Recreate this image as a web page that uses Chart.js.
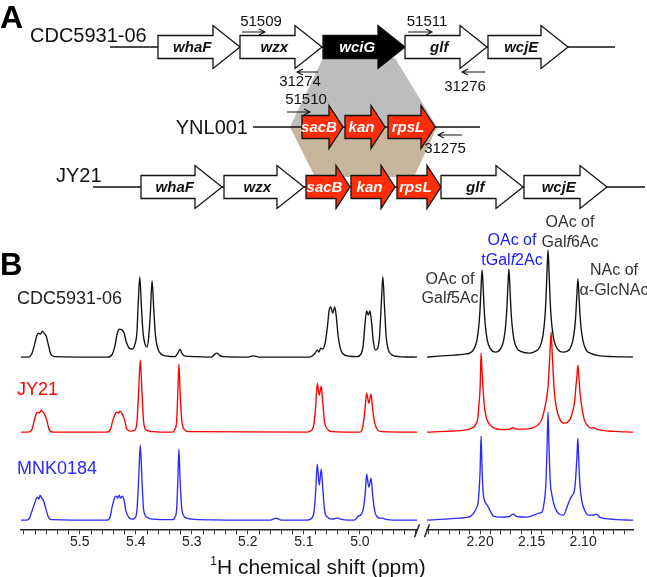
<!DOCTYPE html>
<html>
<head>
<meta charset="utf-8">
<script src="https://cdn.jsdelivr.net/npm/chart.js@4.4.1/dist/chart.umd.min.js"></script>
<style>
  html, body { margin: 0; padding: 0; background: #fff; }
  #fig { position: relative; width: 647px; height: 577px; overflow: hidden; font-family: 'Liberation Sans', Arial, sans-serif; }
  canvas { position: absolute; }
  .t { position: absolute; white-space: nowrap; line-height: 1; }
  .c { transform: translate(-50%, -50%); }
  .l { transform: translateY(-50%); }
  .r { transform: translate(-100%, -50%); }
  .t sup { font-size: 12px; position: relative; top: -9px; vertical-align: baseline; }
</style>
</head>
<body>
<div id="fig">
  <canvas id="genes" width="647" height="235" style="left:0;top:0"></canvas>
  <canvas id="specL" width="422" height="342" style="left:0;top:235px"></canvas>
  <canvas id="specR" width="225" height="342" style="left:422px;top:235px"></canvas>

  <div class="t l" style="left:0;top:17px;font-size:32px;font-weight:bold;color:#000">A</div>
  <div class="t l" style="left:30px;top:35px;font-size:20px;color:#111">CDC5931-06</div>
  <div class="t r" style="left:248px;top:127px;font-size:20px;color:#111">YNL001</div>
  <div class="t l" style="left:56px;top:175px;font-size:20px;color:#111">JY21</div>

  <div class="t l" style="left:0;top:264px;font-size:31px;font-weight:bold;color:#000">B</div>
  <div class="t l" style="left:17px;top:298px;font-size:18px;color:#222">CDC5931-06</div>
  <div class="t l" style="left:17px;top:389px;font-size:18px;color:#ff0000">JY21</div>
  <div class="t l" style="left:17px;top:468px;font-size:18px;color:#2a2aff">MNK0184</div>

  <div class="t c" style="left:450px;top:279px;font-size:16px;color:#333">OAc of</div>
  <div class="t c" style="left:450px;top:298px;font-size:16px;color:#333">Gal<i>f</i>5Ac</div>
  <div class="t c" style="left:512px;top:240px;font-size:16px;color:#1a1aff">OAc of</div>
  <div class="t c" style="left:512px;top:260px;font-size:16px;color:#1a1aff">tGal<i>f</i>2Ac</div>
  <div class="t c" style="left:570px;top:222px;font-size:16px;color:#333">OAc of</div>
  <div class="t c" style="left:570px;top:242px;font-size:16px;color:#333">Gal<i>f</i>6Ac</div>
  <div class="t c" style="left:614px;top:270px;font-size:16px;color:#333">NAc of</div>
  <div class="t c" style="left:614px;top:290px;font-size:16px;color:#333">α-GlcNAc</div>

  <div class="t c" style="left:318px;top:566px;font-size:21px;color:#111"><sup>1</sup>H chemical shift (ppm)</div>
</div>

<script>
// ---- Panel A: gene map (map units along x, track values along y) ----
const ROW_TRACK = [47, 127, 187];
const ROW_LINE_FROM = [110, 253, 93];
const ROW_LINE_TO = [615, 480, 645];

const GENE_NAMES = ['whaF', 'wzx', 'wciG', 'glf', 'wcjE', 'sacB', 'kan', 'rpsL', 'whaF', 'wzx', 'sacB', 'kan', 'rpsL', 'glf', 'wcjE'];
const GENE_ROW = [0, 0, 0, 0, 0, 1, 1, 1, 2, 2, 2, 2, 2, 2, 2];
const GENE_START = [158, 240, 323, 405, 488, 302, 345, 388, 141, 224, 306, 351, 397, 441, 524];
const GENE_END = [240, 322, 405, 487, 568, 343, 385, 435, 222, 304, 350, 395, 441, 523, 607];
const GENE_KIND = ['white', 'white', 'black', 'white', 'white', 'red', 'red', 'red', 'white', 'white', 'red', 'red', 'red', 'white', 'white'];

const PRIMER_NAMES = ['51509', '31274', '51511', '31276', '51510', '31275'];
const PRIMER_FROM = [242, 318, 408, 485, 287, 462];
const PRIMER_TO = [265, 297, 432, 462, 310, 438];
const PRIMER_TRACK = [32, 72, 32, 72, 112, 135];
const PRIMER_LABEL_X = [261, 300, 427, 465, 306, 445];
const PRIMER_LABEL_TRACK = [22, 82, 22, 87, 100, 149];

// homology links: wciG -> YNL001 cassette (grey), cassette -> JY21 (tan)
const LINK_TOP = [323, 395];
const LINK_MID = [290, 437];
const LINK_BOT = [315, 414];
const LINK_TRACK = [58, 127, 177];

// ---- Panel B: 1H NMR spectra, [ppm, intensity] ----
const LEFT_RANGE = [4.898, 5.605];
const RIGHT_RANGE = [2.0515, 2.2515];
const LEFT_TICKS = [5.5, 5.4, 5.3, 5.2, 5.1, 5.0];
const RIGHT_TICKS = [2.20, 2.15, 2.10];
const STRAINS = ['CDC5931-06', 'JY21', 'MNK0184'];
const STACK_OFFSETS = [173, 98, 10];

const CDC_LEFT = [
  [5.605, 0], [5.592, 0], [5.586, 3], [5.581, 12], [5.577, 21], [5.574, 24], [5.570, 23], [5.567, 26], [5.564, 24], [5.560, 21], [5.556, 12], [5.552, 3], [5.546, 0.5],
  [5.450, 0], [5.442, 3], [5.437, 12], [5.433, 24], [5.429, 28], [5.425, 27], [5.421, 24], [5.417, 15], [5.412, 9], [5.407, 8],
  [5.402, 12], [5.398, 25], [5.396, 50], [5.393, 80], [5.390, 50], [5.387, 24], [5.383, 12], [5.380, 10], [5.377, 20], [5.374, 45], [5.371, 76], [5.368, 48], [5.365, 22], [5.361, 9], [5.355, 3], [5.345, 1],
  [5.330, 0.5], [5.325, 4], [5.321, 8], [5.318, 4], [5.312, 1], [5.295, 0.5],
  [5.265, 0], [5.259, 3], [5.255, 4], [5.251, 2], [5.244, 0.5],
  [5.200, 0], [5.190, 1.2], [5.180, 0],
  [5.090, 0], [5.081, 3], [5.076, 7], [5.073, 5], [5.070, 9], [5.067, 8], [5.062, 14], [5.058, 30], [5.055, 46], [5.052, 50], [5.0485, 44], [5.045, 50], [5.042, 40], [5.039, 22], [5.035, 9], [5.030, 3], [5.020, 1],
  [5.005, 0.5], [4.998, 3], [4.994, 12], [4.991, 32], [4.988, 46], [4.985, 42], [4.982, 46], [4.979, 34], [4.976, 16], [4.972, 7], [4.968, 9], [4.965, 20], [4.962, 50], [4.959, 80], [4.956, 50], [4.953, 20], [4.949, 7], [4.942, 2], [4.930, 0.5], [4.898, 0]
];
const JY21_LEFT = [
  [5.605, 0], [5.592, 0], [5.586, 2], [5.582, 10], [5.578, 18], [5.575, 20], [5.572, 19], [5.569, 22], [5.566, 20], [5.563, 18], [5.559, 12], [5.555, 3], [5.548, 0],
  [5.452, 0], [5.445, 3], [5.441, 12], [5.437, 18], [5.434, 20], [5.431, 19], [5.428, 21], [5.424, 18], [5.420, 12], [5.416, 3], [5.409, 1],
  [5.402, 2], [5.398, 10], [5.395, 40], [5.392, 72], [5.389, 40], [5.386, 10], [5.381, 2], [5.370, 0.5],
  [5.335, 0], [5.330, 3], [5.327, 12], [5.325, 40], [5.323, 68], [5.321, 40], [5.318, 12], [5.314, 3], [5.305, 0.5],
  [5.095, 0], [5.086, 2], [5.082, 8], [5.079, 25], [5.076, 49], [5.0725, 37], [5.069, 46], [5.066, 28], [5.063, 10], [5.058, 3], [5.050, 0.5],
  [5.000, 0], [4.996, 3], [4.993, 12], [4.990, 28], [4.988, 39], [4.984, 29], [4.980, 38], [4.977, 22], [4.973, 8], [4.968, 2], [4.960, 0.5], [4.898, 0]
];
const MNK_LEFT = [
  [5.605, 0], [5.595, 0], [5.590, 2], [5.585, 10], [5.580, 18], [5.576, 23], [5.573, 21], [5.571, 25], [5.568, 22], [5.565, 20], [5.561, 12], [5.556, 3], [5.550, 0.5],
  [5.452, 0], [5.446, 3], [5.442, 14], [5.438, 22], [5.435, 24], [5.432, 22], [5.430, 25], [5.427, 22], [5.424, 24], [5.421, 20], [5.418, 10], [5.413, 3], [5.407, 1],
  [5.402, 2], [5.398, 10], [5.395, 40], [5.392, 75], [5.389, 40], [5.386, 10], [5.380, 3], [5.370, 1],
  [5.335, 0.5], [5.330, 3], [5.327, 12], [5.325, 40], [5.323, 71], [5.321, 40], [5.318, 12], [5.314, 4], [5.309, 2], [5.300, 1], [5.290, 0.5],
  [5.160, 0], [5.150, 2], [5.140, 0],
  [5.095, 0], [5.086, 2], [5.082, 8], [5.079, 28], [5.076, 56], [5.0725, 35], [5.069, 51], [5.066, 30], [5.063, 10], [5.058, 3], [5.050, 1], [5.040, 2], [5.035, 1], [5.020, 0],
  [5.010, 0], [5.003, 4], [4.997, 6], [4.993, 14], [4.990, 30], [4.988, 46], [4.984, 33], [4.980, 42], [4.977, 24], [4.973, 8], [4.968, 3], [4.964, 2], [4.960, 2], [4.955, 1], [4.940, 0], [4.898, 0]
];

const CDC_RIGHT = [
  [2.2515, 0], [2.240, 1], [2.225, 2], [2.215, 3], [2.210, 4], [2.206, 8], [2.203, 17], [2.201, 33], [2.200, 48], [2.199, 70], [2.198, 87], [2.197, 70], [2.196, 48], [2.195, 33], [2.193, 17], [2.190, 8.5],
  [2.185, 5], [2.180, 8.5], [2.177, 17], [2.175, 33], [2.174, 48], [2.173, 70], [2.172, 88], [2.171, 70], [2.170, 48], [2.169, 33], [2.167, 17], [2.164, 8.5], [2.160, 5.5],
  [2.152, 4], [2.146, 6], [2.142, 10], [2.139, 21], [2.137, 40], [2.136, 58], [2.135, 85], [2.134, 107], [2.133, 85], [2.132, 58], [2.131, 40], [2.129, 21], [2.126, 10],
  [2.119, 5], [2.113, 8], [2.110, 16], [2.108, 30], [2.107, 43], [2.106, 62], [2.105, 78], [2.104, 62], [2.103, 43], [2.102, 30], [2.100, 16], [2.097, 7], [2.093, 4], [2.085, 1.5], [2.070, 0.5], [2.0515, 0]
];
const JY21_RIGHT = [
  [2.2515, 0], [2.230, 1], [2.215, 2], [2.208, 4], [2.204, 8], [2.202, 15], [2.201, 28], [2.200, 43], [2.1995, 60], [2.199, 79], [2.198, 60], [2.197, 43], [2.196, 28], [2.194, 15], [2.191, 8], [2.186, 4],
  [2.178, 2.5], [2.171, 3], [2.168, 4.5], [2.165, 3], [2.158, 3], [2.150, 4], [2.144, 7], [2.140, 13], [2.137, 25], [2.134, 45], [2.133, 62], [2.132, 82], [2.131, 100], [2.130, 80], [2.129, 60], [2.128, 42], [2.126, 25], [2.123, 14],
  [2.119, 9], [2.115, 10], [2.112, 14], [2.110, 21], [2.108, 32], [2.107, 45], [2.106, 55], [2.105, 67], [2.104, 55], [2.103, 40], [2.101, 24], [2.099, 13], [2.096, 7], [2.092, 4], [2.090, 4.5], [2.087, 3], [2.080, 1.5], [2.070, 0.8], [2.0515, 0]
];
const MNK_RIGHT = [
  [2.2515, 0], [2.235, 1], [2.220, 2], [2.212, 3], [2.208, 5], [2.204, 11], [2.202, 17], [2.201, 28], [2.200, 48], [2.199, 84], [2.198, 50], [2.197, 28], [2.195, 18], [2.193, 15], [2.190, 9], [2.187, 4],
  [2.180, 3], [2.172, 3.5], [2.168, 6], [2.164, 3.5], [2.155, 3], [2.148, 5], [2.143, 7], [2.140, 8], [2.138, 16], [2.136, 38], [2.135, 70], [2.134, 108], [2.133, 72], [2.132, 42], [2.130, 24], [2.127, 12], [2.123, 6],
  [2.119, 5], [2.116, 12], [2.113, 20], [2.111, 24], [2.108, 32], [2.107, 45], [2.106, 62], [2.105, 82], [2.104, 55], [2.103, 35], [2.101, 18], [2.098, 9], [2.095, 5], [2.090, 5], [2.087, 6], [2.084, 3], [2.078, 1.5], [2.070, 0.8], [2.0515, 0]
];

const SERIES_COLORS = ['#111111', '#ff0000', '#2a2aff'];
const FONT = "'Liberation Sans', Arial, sans-serif";
Chart.defaults.font.family = FONT;

// ---------------- gene map ----------------
const geneMap = {
  id: 'geneMap',
  afterDraw(chart) {
    const { ctx, scales: { x, y } } = chart;
    const px = (v) => x.getPixelForValue(v);
    const py = (v) => y.getPixelForValue(v);
    ctx.save();

    // homology bands
    ctx.fillStyle = '#bdbdbd';
    ctx.beginPath();
    ctx.moveTo(px(LINK_TOP[0]), py(LINK_TRACK[0]));
    ctx.lineTo(px(LINK_TOP[1]), py(LINK_TRACK[0]));
    ctx.lineTo(px(LINK_MID[1]), py(LINK_TRACK[1]));
    ctx.lineTo(px(LINK_MID[0]), py(LINK_TRACK[1]));
    ctx.closePath();
    ctx.fill();
    ctx.fillStyle = '#c8b59e';
    ctx.beginPath();
    ctx.moveTo(px(LINK_MID[0]), py(LINK_TRACK[1]));
    ctx.lineTo(px(LINK_MID[1]), py(LINK_TRACK[1]));
    ctx.lineTo(px(LINK_BOT[1]), py(LINK_TRACK[2]));
    ctx.lineTo(px(LINK_BOT[0]), py(LINK_TRACK[2]));
    ctx.closePath();
    ctx.fill();

    // chromosome lines
    ctx.strokeStyle = '#111';
    ctx.lineWidth = 1.3;
    ROW_TRACK.forEach((t, i) => {
      ctx.beginPath();
      ctx.moveTo(px(ROW_LINE_FROM[i]), py(t));
      ctx.lineTo(px(ROW_LINE_TO[i]), py(t));
      ctx.stroke();
    });

    // gene arrows
    const bodyH = 11.5, headH = 21.5;
    GENE_NAMES.forEach((name, i) => {
      const kind = GENE_KIND[i];
      const head = kind === 'red' ? 14 : 27;
      const x0 = px(GENE_START[i]), x1 = px(GENE_END[i]), yc = py(ROW_TRACK[GENE_ROW[i]]);
      ctx.beginPath();
      ctx.moveTo(x0, yc - bodyH);
      ctx.lineTo(x1 - head, yc - bodyH);
      ctx.lineTo(x1 - head, yc - headH);
      ctx.lineTo(x1, yc);
      ctx.lineTo(x1 - head, yc + headH);
      ctx.lineTo(x1 - head, yc + bodyH);
      ctx.lineTo(x0, yc + bodyH);
      ctx.closePath();
      ctx.fillStyle = kind === 'red' ? '#ff2d0a' : kind === 'black' ? '#000' : '#fff';
      ctx.fill();
      ctx.strokeStyle = '#111';
      ctx.lineWidth = 1.3;
      ctx.stroke();

      ctx.fillStyle = kind === 'white' ? '#111' : '#fff';
      ctx.font = `italic bold 15px ${FONT}`;
      ctx.textAlign = 'center';
      ctx.textBaseline = 'middle';
      ctx.fillText(name, (x0 + x1 - head / 2) / 2, yc + 1);
    });

    // primers
    ctx.strokeStyle = '#111';
    ctx.fillStyle = '#111';
    ctx.lineWidth = 1.1;
    ctx.font = `15px ${FONT}`;
    PRIMER_NAMES.forEach((name, i) => {
      const a = px(PRIMER_FROM[i]), b = px(PRIMER_TO[i]), yy = py(PRIMER_TRACK[i]);
      const dir = b > a ? 1 : -1;
      ctx.beginPath();
      ctx.moveTo(a, yy);
      ctx.lineTo(b, yy);
      ctx.moveTo(b - dir * 6, yy - 3);
      ctx.lineTo(b, yy);
      ctx.lineTo(b - dir * 6, yy + 3);
      ctx.stroke();
      ctx.fillText(name, px(PRIMER_LABEL_X[i]), py(PRIMER_LABEL_TRACK[i]));
    });
    ctx.restore();
  }
};

new Chart(document.getElementById('genes'), {
  type: 'scatter',
  data: { datasets: [] },
  options: {
    responsive: false,
    animation: false,
    layout: { padding: 0 },
    plugins: { legend: { display: false }, tooltip: { enabled: false } },
    scales: {
      x: { type: 'linear', min: 0, max: 647, display: false },
      y: { type: 'linear', min: 0, max: 235, reverse: true, display: false }
    }
  },
  plugins: [geneMap]
});

// ---------------- spectra ----------------
function breakMark(edge) {
  return {
    id: 'breakMark',
    afterDraw(chart) {
      const { ctx, chartArea } = chart;
      const xb = edge === 'right' ? chartArea.right : chartArea.left;
      const yb = chartArea.bottom;
      ctx.save();
      ctx.strokeStyle = '#222';
      ctx.lineWidth = 1.5;
      ctx.beginPath();
      ctx.moveTo(xb - 2.5, yb + 7);
      ctx.lineTo(xb + 2.5, yb - 6);
      ctx.stroke();
      ctx.restore();
    }
  };
}

function spectrumChart(id, range, majors, step, digits, series, padding, edge) {
  return new Chart(document.getElementById(id), {
    type: 'line',
    data: {
      datasets: series.map((s, i) => ({
        label: STRAINS[i],
        data: s.map(([ppm, v]) => ({ x: ppm, y: v + STACK_OFFSETS[i] })),
        borderColor: SERIES_COLORS[i],
        borderWidth: 1.35,
        pointRadius: 0,
        cubicInterpolationMode: 'monotone',
        fill: false,
        clip: false
      }))
    },
    options: {
      responsive: false,
      animation: false,
      layout: { padding },
      plugins: { legend: { display: false }, tooltip: { enabled: false } },
      scales: {
        x: {
          type: 'linear',
          reverse: true,
          min: range[0],
          max: range[1],
          afterBuildTicks: (axis) => {
            const ticks = [];
            for (let k = Math.ceil(range[0] / step - 1e-6); k <= Math.floor(range[1] / step + 1e-6); k++) {
              ticks.push({ value: +(k * step).toFixed(4) });
            }
            axis.ticks = ticks;
          },
          ticks: {
            autoSkip: false,
            maxRotation: 0,
            padding: 0,
            color: '#222',
            font: { size: 14 },
            callback: (v) => (majors.some((m) => Math.abs(m - v) < 1e-6) ? Number(v).toFixed(digits) : '')
          },
          grid: { drawOnChartArea: false, drawTicks: true, tickLength: 4, color: '#333' },
          border: { display: true, color: '#222', width: 1.5 }
        },
        y: { display: false, min: 0, max: 290 }
      }
    },
    plugins: [breakMark(edge)]
  });
}

spectrumChart('specL', LEFT_RANGE, LEFT_TICKS, 0.02, 1, [CDC_LEFT, JY21_LEFT, MNK_LEFT],
  { left: 21, right: 5, top: 5, bottom: 26 }, 'right');
spectrumChart('specR', RIGHT_RANGE, RIGHT_TICKS, 0.01, 2, [CDC_RIGHT, JY21_RIGHT, MNK_RIGHT],
  { left: 5, right: 14, top: 5, bottom: 26 }, 'left');
</script>
</body>
</html>
